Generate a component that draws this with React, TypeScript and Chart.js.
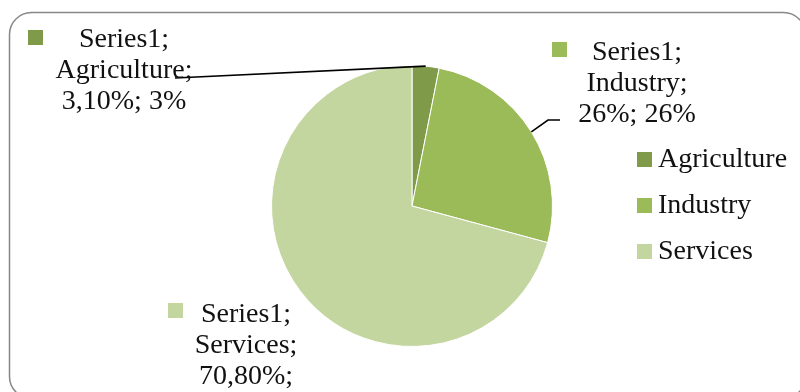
import React, { useEffect, useRef } from "react";
import { Chart, registerables } from "chart.js";

Chart.register(...registerables);

// ---- data ----
const categories = ["Agriculture", "Industry", "Services"];
const values = [3.1, 26.1, 70.8];
const seriesName = "Series1";
const valueTexts = ["3,10%", "26%", "70,80%"];
const percentTexts = ["3%", "26%", ""];
const colors = ["#7F9B4A", "#9BBB59", "#C4D6A0"];

// ---- layout (not data) ----
const FONT = "28px 'Liberation Serif', 'Times New Roman', serif";
const labelLayout = [
  { cx: 124, baseline: 47, box: [28, 30], leader: [[175, 78]] },
  { cx: 637, baseline: 60, box: [552, 42], leader: [[548, 120], [560, 120]] },
  { cx: 246, baseline: 322, box: [168, 303], leader: [] as number[][] },
];
const lineGap = 31;
const legendLayout = { boxX: 637, textX: 658, firstBaseline: 167, gap: 46 };

const decorPlugin = {
  id: "decor",
  afterDraw(chart: any) {
    const ctx: CanvasRenderingContext2D = chart.ctx;
    ctx.save();
    // outer rounded frame
    ctx.strokeStyle = "#878787";
    ctx.lineWidth = 1.5;
    ctx.beginPath();
    (ctx as any).roundRect(9.5, 12.5, 796, 386, 22);
    ctx.stroke();

    const meta = chart.getDatasetMeta(0);
    ctx.font = FONT;
    ctx.textBaseline = "alphabetic";

    categories.forEach((cat, i) => {
      const arc = meta.data[i];
      const p = arc.getProps(["x", "y", "startAngle", "endAngle", "outerRadius"], true);
      const mid = (p.startAngle + p.endAngle) / 2;
      const ax = p.x + Math.cos(mid) * p.outerRadius;
      const ay = p.y + Math.sin(mid) * p.outerRadius;
      const L = labelLayout[i];
      // leader line
      if (L.leader.length) {
        ctx.strokeStyle = "#000";
        ctx.lineWidth = 1.6;
        ctx.beginPath();
        ctx.moveTo(ax, ay);
        L.leader.forEach(([x, y]) => ctx.lineTo(x, y));
        ctx.stroke();
      }
      // label box
      ctx.fillStyle = colors[i];
      ctx.fillRect(L.box[0], L.box[1], 15, 15);
      // label text
      const lines = [
        `${seriesName};`,
        `${cat};`,
        percentTexts[i] ? `${valueTexts[i]}; ${percentTexts[i]}` : `${valueTexts[i]};`,
      ];
      ctx.fillStyle = "#111";
      ctx.textAlign = "center";
      lines.forEach((t, k) => ctx.fillText(t, L.cx, L.baseline + k * lineGap));

      // legend
      const bl = legendLayout.firstBaseline + i * legendLayout.gap;
      ctx.fillStyle = colors[i];
      ctx.fillRect(legendLayout.boxX, bl - 15, 15, 15);
      ctx.fillStyle = "#111";
      ctx.textAlign = "left";
      ctx.fillText(cat, legendLayout.textX, bl);
    });
    ctx.restore();
  },
};

export default function App() {
  const ref = useRef<HTMLCanvasElement | null>(null);
  useEffect(() => {
    if (!ref.current) return;
    const chart = new Chart(ref.current, {
      type: "pie",
      data: {
        labels: categories,
        datasets: [
          {
            label: seriesName,
            data: values,
            backgroundColor: colors,
            borderColor: "#ffffff",
            borderWidth: 1,
          },
        ],
      },
      options: {
        responsive: false,
        animation: false,
        rotation: 0,
        layout: { padding: { left: 271, right: 247, top: 65, bottom: 45 } },
        plugins: {
          legend: { display: false },
          tooltip: { enabled: false },
        },
      },
      plugins: [decorPlugin],
    });
    return () => chart.destroy();
  }, []);
  return (
    <div style={{ position: "absolute", left: 0, top: 0, width: 800, height: 392, background: "#fff" }}>
      <canvas ref={ref} width={800} height={392} style={{ display: "block" }} />
    </div>
  );
}
